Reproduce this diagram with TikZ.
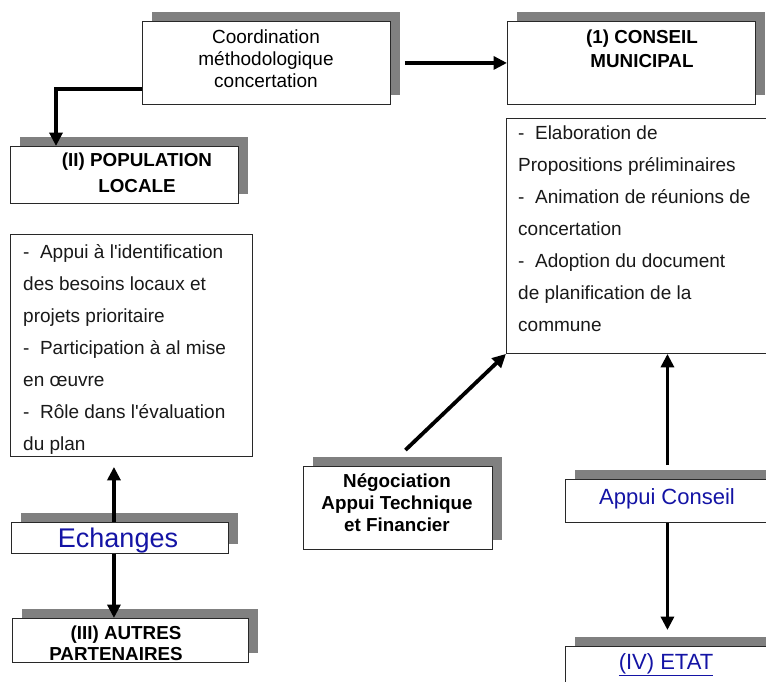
\documentclass[tikz,border=0pt]{standalone}
\usepackage{fontspec}
\setmainfont{Liberation Sans}
\usetikzlibrary{shadows,arrows.meta}
\definecolor{shade}{RGB}{128,128,128}
\definecolor{linkblue}{RGB}{20,20,165}
\definecolor{edge}{RGB}{40,40,40}

\begin{document}
\begin{tikzpicture}[x=1pt,y=-1pt,
  box/.style={draw=edge, line width=0.9pt, fill=white, anchor=north west,
    inner sep=0pt, minimum width=#1},
  sbox/.style={box=#1, drop shadow={shadow xshift=9.5pt, shadow yshift=9.5pt,
    fill=shade, opacity=1}},
  arr/.style={line width=3.8pt, -{Triangle[length=13.5pt,width=13pt]}},
  txt/.style={inner sep=0pt, align=center, text=black},
  bold/.style={txt, font=\bfseries\fontsize{18.8}{#1}\selectfont},
  plain/.style={txt, font=\fontsize{19}{#1}\selectfont},
  listtxt/.style={inner sep=0pt, anchor=north west, align=left,
    font=\fontsize{19}{32}\selectfont, text=black!90},
  blue/.style={txt, text=linkblue, font=\fontsize{#1}{#1}\selectfont}]

\useasboundingbox (0,0) rectangle (766,681);
\clip (0,0) rectangle (766,681);

% boxes
\node[sbox=248pt, minimum height=83pt] (coord)   at (142,21)  {};
\node[sbox=248pt, minimum height=83pt] (conseil) at (507,21)  {};
\node[box=322pt,  minimum height=235pt] (cmlist) at (506,118) {};
\node[sbox=228pt, minimum height=57pt] (pop)     at (10,146)  {};
\node[box=242pt,  minimum height=222pt] (poplist) at (10,234) {};
\node[sbox=217pt, minimum height=31pt] (ech)     at (11,522)  {};
\node[sbox=236pt, minimum height=44pt] (autres)  at (12,618)  {};
\node[sbox=189pt, minimum height=83pt] (nego)    at (303,466) {};
\node[sbox=204pt, minimum height=43pt] (appui)   at (565,479) {};
\node[sbox=204pt, minimum height=60pt] (etat)    at (565,646) {};

% box texts
\node[plain=22] (coordtxt) at (266,59) {Coordination\\méthodologique\\concertation};
\node[bold=24] (conseiltxt) at (642,49) {(1) CONSEIL\\MUNICIPAL};
\node[bold=26] (poptxt) at (137,173) {(II) POPULATION\\LOCALE};
\node[bold=21] (autrestxt) at (121,643) {\hspace*{10pt}(III) AUTRES\\PARTENAIRES\hspace*{10pt}};
\node[bold=22] (negotxt) at (397,503) {Négociation\\Appui Technique\\et Financier};
\node[blue=27] (echtxt) at (118,541) {Echanges};
\node[blue=22] (appuitxt) at (667,499) {Appui Conseil};
\node[blue=22] (etattxt) at (666,665) {\underline{(IV) ETAT}};

\node[listtxt] (cmitems) at (518,126) {-~ Elaboration de\\Propositions préliminaires\\-~ Animation de réunions de\\concertation\\-~ Adoption du document\\de planification de la\\commune};
\node[listtxt] (popitems) at (23,244) {-~ Appui à l\textquotesingle identification\\des besoins locaux et\\projets prioritaire\\-~ Participation à al mise\\en œuvre\\-~ Rôle dans l\textquotesingle évaluation\\du plan};

% connectors
\coordinate (negotop) at ([xshift=7.5pt,yshift=16pt]nego.north);
\coordinate (echup) at ([xshift=-6pt]ech.north);
\coordinate (echdown) at ([xshift=-6pt]ech.south);

\draw[arr] ([yshift=-26pt]coord.west) -| ([xshift=46pt]pop.north west);
\draw[arr, shorten <=14pt] (coord.east) -- (conseil.west);
\draw[arr] (negotop) -- (cmlist.south west);
\draw[arr, shorten <=14pt] (appui.north) -- (appui.north |- cmlist.south);
\draw[arr, shorten >=16pt] (appui.south) -- (etat.north);
\draw[arr, shorten >=10pt] (echup) -- (echup |- poplist.south);
\draw[arr] (echdown) -- (echdown |- autres.north);

\end{tikzpicture}
\end{document}
